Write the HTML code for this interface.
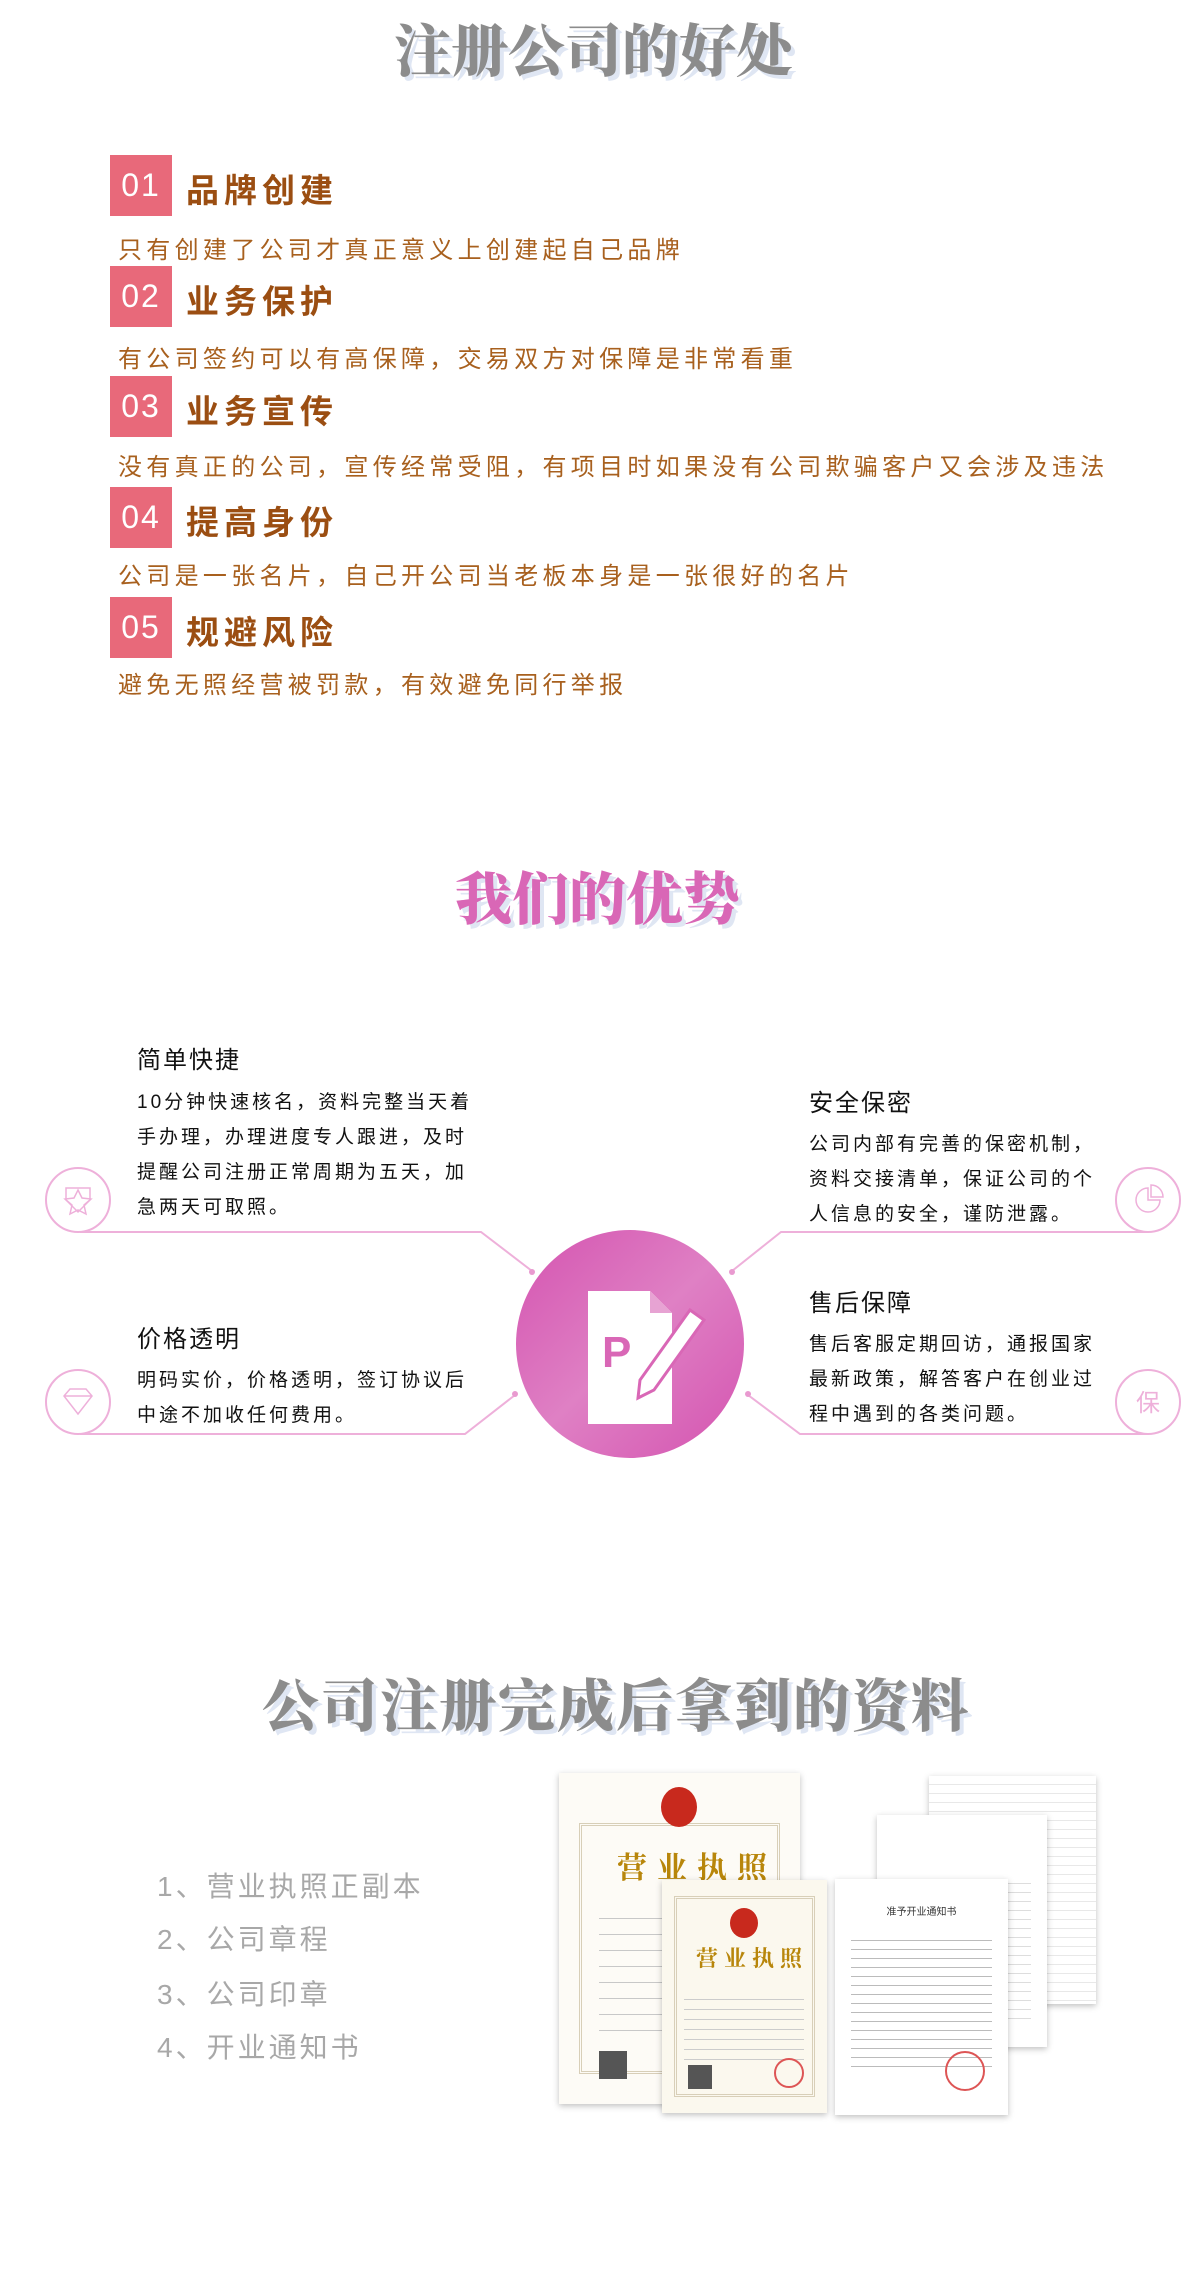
<!DOCTYPE html>
<html><head><meta charset="utf-8"><style>
*{margin:0;padding:0;box-sizing:border-box}
body{width:1200px;height:2291px;background:#fff;position:relative;overflow:hidden;font-family:"Liberation Sans","Noto Sans CJK SC",sans-serif}
.a{position:absolute;white-space:nowrap}
.t{font-family:"Noto Serif CJK SC",serif;font-weight:900;text-shadow:4px 4px 0 #dfe6f3}
.box{position:absolute;left:110px;width:62px;height:61px;background:#e8697a;color:#fff;font-size:32px;line-height:61px;text-align:center;letter-spacing:2px}
.h{left:186px;font-size:33px;font-weight:bold;color:#9b4e12;letter-spacing:5px;line-height:40px}
.d{left:118px;font-size:24px;color:#a8601e;letter-spacing:4.3px;line-height:30px}
.k{font-size:24px;color:#111;letter-spacing:2px;line-height:30px}
.p{font-size:19px;color:#111;letter-spacing:3px;line-height:35px}
.li{left:157px;font-size:28px;color:#a8a8a8;letter-spacing:3px;line-height:36px}
.doc{position:absolute;background:#fff;box-shadow:0 2px 6px rgba(0,0,0,.25)}
.ft{display:flex}.ft span{display:block;width:59px;text-align:left}
</style></head><body>
<div class="a t" style="left:394px;top:12px;font-size:57px;color:#8c8c8c;line-height:70px">注册公司的好处</div>

<div class="box" style="top:155px">01</div><div class="a h" style="top:171px">品牌创建</div>
<div class="a d" style="top:236px">只有创建了公司才真正意义上创建起自己品牌</div>
<div class="box" style="top:266px">02</div><div class="a h" style="top:282px">业务保护</div>
<div class="a d" style="top:345px">有公司签约可以有高保障，交易双方对保障是非常看重</div>
<div class="box" style="top:376px">03</div><div class="a h" style="top:392px">业务宣传</div>
<div class="a d" style="top:453px">没有真正的公司，宣传经常受阻，有项目时如果没有公司欺骗客户又会涉及违法</div>
<div class="box" style="top:487px">04</div><div class="a h" style="top:503px">提高身份</div>
<div class="a d" style="top:562px">公司是一张名片，自己开公司当老板本身是一张很好的名片</div>
<div class="box" style="top:597px">05</div><div class="a h" style="top:613px">规避风险</div>
<div class="a d" style="top:671px">避免无照经营被罚款，有效避免同行举报</div>

<div class="a t" style="left:455px;top:860px;font-size:57px;color:#d967b6;line-height:70px">我们的优势</div>

<svg class="a" style="left:0;top:1150px" width="1200" height="420" viewBox="0 1150 1200 420">
<defs><linearGradient id="g" x1="0" y1="0" x2="1" y2="1"><stop offset="0" stop-color="#d453b0"/><stop offset=".5" stop-color="#df80c4"/><stop offset="1" stop-color="#d453b0"/></linearGradient></defs>
<g fill="none" stroke="#eeb0da" stroke-width="2">
<circle cx="78" cy="1200" r="32"/><circle cx="78" cy="1402" r="32"/>
<circle cx="1148" cy="1200" r="32"/><circle cx="1148" cy="1402" r="32"/>
<polyline points="80,1232 481,1232 532,1271"/>
<polyline points="1148,1232 781,1232 732,1271"/>
<polyline points="80,1434 465,1434 515,1395"/>
<polyline points="1148,1434 800,1434 748,1395"/>
<path d="M66 1188h24v12l-12 12-12-12z" stroke-width="1.5"/>
<path d="M78 1190l4 8 9 1-7 6 2 9-8-4-8 4 2-9-7-6 9-1z" stroke-width="1.5"/>
<path d="M64 1396l6-7h16l6 7-14 18z M64 1396h28" stroke-width="1.5"/>
<path d="M1148 1188a12 12 0 1 0 12 12h-12z M1151 1185v12h12a12 12 0 0 0-12-12z" stroke-width="1.5"/>
</g>
<text x="1148" y="1411" font-size="24" fill="#eeb0da" text-anchor="middle" font-family="Noto Sans CJK SC">保</text>
<g fill="#e99ad0"><circle cx="532" cy="1272" r="3"/><circle cx="732" cy="1272" r="3"/><circle cx="515" cy="1394" r="3"/><circle cx="748" cy="1394" r="3"/></g>
<circle cx="630" cy="1344" r="114" fill="url(#g)"/>
<path d="M588 1291h62l22 22v111h-84z" fill="#fff"/>
<path d="M650 1291v22h22z" fill="#e7a3d3"/>
<text x="602" y="1367" font-size="44" font-weight="bold" fill="#d967b6" font-family="Liberation Sans">P</text>
<path d="M690 1310l14 10-50 70-16 8 2-18z" fill="#fff" stroke="#d967b6" stroke-width="3"/>
</svg>

<div class="a k" style="left:137px;top:1046px">简单快捷</div>
<div class="a p" style="left:137px;top:1085px">10分钟快速核名，资料完整当天着<br>手办理，办理进度专人跟进，及时<br>提醒公司注册正常周期为五天，加<br>急两天可取照。</div>
<div class="a k" style="left:809px;top:1089px">安全保密</div>
<div class="a p" style="left:809px;top:1127px">公司内部有完善的保密机制，<br>资料交接清单，保证公司的个<br>人信息的安全，谨防泄露。</div>
<div class="a k" style="left:137px;top:1325px">价格透明</div>
<div class="a p" style="left:137px;top:1363px">明码实价，价格透明，签订协议后<br>中途不加收任何费用。</div>
<div class="a k" style="left:809px;top:1289px">售后保障</div>
<div class="a p" style="left:809px;top:1327px">售后客服定期回访，通报国家<br>最新政策，解答客户在创业过<br>程中遇到的各类问题。</div>

<div class="a t ft" style="left:262px;top:1664px;font-size:57px;color:#8c8c8c;line-height:76px"><span>公</span><span>司</span><span>注</span><span>册</span><span>完</span><span>成</span><span>后</span><span>拿</span><span>到</span><span>的</span><span>资</span><span>料</span></div>
<div class="a li" style="top:1869px">1、营业执照正副本</div>
<div class="a li" style="top:1922px">2、公司章程</div>
<div class="a li" style="top:1977px">3、公司印章</div>
<div class="a li" style="top:2030px">4、开业通知书</div>

<div class="doc" style="left:929px;top:1776px;width:167px;height:228px;background:repeating-linear-gradient(#fff 0 8px,#e8e8e8 8px 9px)"></div>
<div class="doc" style="left:877px;top:1815px;width:170px;height:232px;background:#fff"><div style="margin:60px 16px 0;height:150px;background:repeating-linear-gradient(#fff 0 8px,#ddd 8px 9px)"></div></div>
<div class="doc" style="left:559px;top:1773px;width:241px;height:331px;background:#fdfbf6"><div style="position:absolute;left:20px;top:50px;right:20px;bottom:30px;border:3px double #d8cfb8"></div>
<div style="position:absolute;left:102px;top:14px;width:36px;height:40px;border-radius:50%;background:#c8291d"></div>
<div style="position:absolute;left:58px;top:70px;font-size:30px;color:#b8860b;font-weight:bold;letter-spacing:10px;font-family:'Noto Serif CJK SC',serif">营业执照</div>
<div style="position:absolute;left:40px;top:130px;width:160px;height:140px;background:repeating-linear-gradient(#fdfbf6 0 15px,#c8c8c8 15px 16px)"></div>
<div style="position:absolute;left:40px;top:278px;width:28px;height:28px;background:#555"></div></div>
<div class="doc" style="left:662px;top:1880px;width:165px;height:233px;background:#fbf8ee"><div style="position:absolute;left:12px;top:16px;right:12px;bottom:16px;border:3px double #d8cfb8"></div>
<div style="position:absolute;left:68px;top:28px;width:28px;height:30px;border-radius:50%;background:#c8291d"></div>
<div style="position:absolute;left:34px;top:62px;font-size:22px;color:#b8860b;font-weight:bold;letter-spacing:6px;font-family:'Noto Serif CJK SC',serif">营业执照</div>
<div style="position:absolute;left:22px;top:110px;width:120px;height:70px;background:repeating-linear-gradient(#fbf8ee 0 9px,#ccc 9px 10px)"></div>
<div style="position:absolute;left:26px;top:185px;width:24px;height:24px;background:#555"></div>
<div style="position:absolute;left:112px;top:178px;width:30px;height:30px;border-radius:50%;border:2px solid #d55"></div></div>
<div class="doc" style="left:835px;top:1879px;width:173px;height:236px;background:#fff"><div style="text-align:center;font-size:10px;color:#333;margin-top:24px">准予开业通知书</div>
<div style="margin:14px 16px 0;height:135px;background:repeating-linear-gradient(#fff 0 8px,#bbb 8px 9px)"></div>
<div style="position:absolute;left:110px;top:172px;width:40px;height:40px;border-radius:50%;border:2px solid #d55"></div></div>
</body></html>
